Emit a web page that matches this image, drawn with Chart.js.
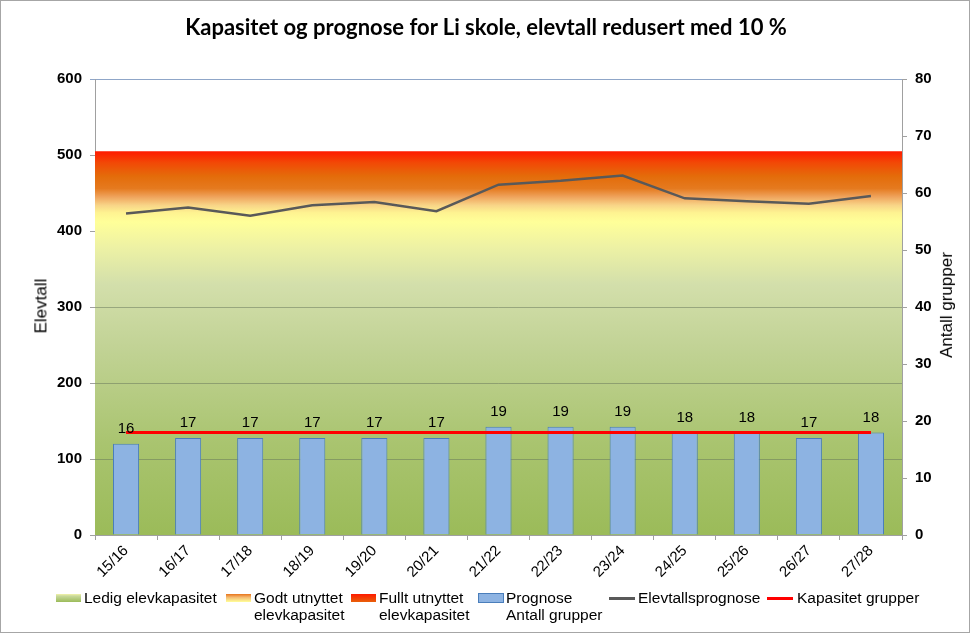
<!DOCTYPE html>
<html>
<head>
<meta charset="utf-8">
<script src="https://cdn.jsdelivr.net/npm/chart.js@4/dist/chart.umd.min.js"></script>
<style>
  html, body { margin: 0; padding: 0; background: #fff; }
  #wrap { position: relative; width: 970px; height: 633px; box-sizing: border-box; border: 1px solid #a6a6a6; overflow: hidden; }
  #c { position: absolute; left: 0; top: 0; }
  .txt { position: absolute; font-family: "Liberation Sans", Arial, sans-serif; color: #000; white-space: nowrap; }
  #title { left: 0; width: 970px; top: 12px; text-align: center; font-family: Lato, "Liberation Sans", sans-serif; font-weight: bold; font-size: 22px; }
  .ytitle { font-size: 17px; transform-origin: center center; }
  .leg { position: absolute; font-family: "Liberation Sans", Arial, sans-serif; font-size: 15.5px; line-height: 17px; white-space: nowrap; }
  .sw { position: absolute; width: 25px; height: 8px; }
  .ln { position: absolute; width: 26px; height: 3px; }
</style>
</head>
<body>
<div id="wrap">
  <canvas id="c" width="970" height="633"></canvas>
  <div id="title" class="txt">Kapasitet og prognose for Li skole, elevtall redusert med 10 %</div>
  <div class="txt ytitle" id="ytl">Elevtall</div>
  <div class="txt ytitle" id="ytr">Antall grupper</div>

  <div class="sw" style="left:55px;top:593px;background:linear-gradient(to bottom,#f2f4a8 0%,#c9d99c 25%,#9bbb59 100%);"></div>
  <div class="leg" style="left:83px;top:588px;">Ledig elevkapasitet</div>
  <div class="sw" style="left:225px;top:593px;background:linear-gradient(to bottom,#e8741a 0%,#f4b870 40%,#ffff99 100%);"></div>
  <div class="leg" style="left:253px;top:588px;">Godt utnyttet<br>elevkapasitet</div>
  <div class="sw" style="left:350px;top:593px;background:linear-gradient(to bottom,#ff1a00 0%,#e8600a 100%);"></div>
  <div class="leg" style="left:378px;top:588px;">Fullt utnyttet<br>elevkapasitet</div>
  <div class="sw" style="left:477px;top:592px;width:24px;height:8px;background:#8db3e2;border:1px solid #4a7ebb;"></div>
  <div class="leg" style="left:505px;top:588px;">Prognose<br>Antall grupper</div>
  <div class="ln" style="left:608px;top:596px;background:#595959;"></div>
  <div class="leg" style="left:637px;top:588px;">Elevtallsprognose</div>
  <div class="ln" style="left:766px;top:596px;background:#ff0000;"></div>
  <div class="leg" style="left:796px;top:588px;">Kapasitet grupper</div>
</div>
<script>
// ---- data ----
const categories = ['15/16','16/17','17/18','18/19','19/20','20/21','21/22','22/23','23/24','24/25','25/26','26/27','27/28'];
const elevtallsprognose = [423, 431, 420, 434, 438, 426, 461, 466, 473, 443, 439, 436, 446];
const antallGrupper = [16, 17, 17, 17, 17, 17, 19, 19, 19, 18, 18, 17, 18];
const kapasitetGrupper = [18, 18, 18, 18, 18, 18, 18, 18, 18, 18, 18, 18, 18];
const ledigElevkapasitet = [415, 415, 415, 415, 415, 415, 415, 415, 415, 415, 415, 415, 415];
const godtUtnyttet = [465, 465, 465, 465, 465, 465, 465, 465, 465, 465, 465, 465, 465];
const fulltUtnyttet = [505, 505, 505, 505, 505, 505, 505, 505, 505, 505, 505, 505, 505];
const leftTicks = [0, 100, 200, 300, 400, 500, 600];
const rightTicks = [0, 10, 20, 30, 40, 50, 60, 70, 80];

// area band points on a hidden linear x axis spanning the full plot width
function bandPoints(arr) {
  const pts = [{x: -0.5, y: arr[0]}];
  arr.forEach((v, i) => pts.push({x: i, y: v}));
  pts.push({x: arr.length - 0.5, y: arr[arr.length - 1]});
  return pts;
}

const stops = [
  [0, '#9bbb59'], [120, '#a9c46f'], [250, '#c2d396'], [330, '#d3dfab'],
  [380, '#eef2a4'], [412, '#ffff99'], [424, '#fef391'], [434, '#f8d487'],
  [445, '#efa35c'], [456, '#e57a1f'], [472, '#e46c0a'], [490, '#f24806'], [505, '#ff1a00']
];
function bandGradient(ctx) {
  const chart = ctx.chart;
  const area = chart.chartArea;
  if (!area) return '#c2d396';
  const y = chart.scales.y;
  const p0 = y.getPixelForValue(0), p1 = y.getPixelForValue(505);
  const g = chart.ctx.createLinearGradient(0, p0, 0, p1);
  stops.forEach(s => g.addColorStop(s[0] / 505, s[1]));
  return g;
}

const gridOverAreas = {
  id: 'gridOverAreas',
  beforeDatasetDraw(chart, args) {
    if (args.index !== 3) return;
    const {ctx, chartArea, scales} = chart;
    ctx.save();
    ctx.strokeStyle = 'rgba(100,115,90,0.5)';
    ctx.lineWidth = 1;
    leftTicks.forEach(v => {
      if (v === 0 || v > 300) return;
      const py = Math.round(scales.y.getPixelForValue(v)) + 0.5;
      ctx.beginPath(); ctx.moveTo(chartArea.left, py); ctx.lineTo(chartArea.right, py); ctx.stroke();
    });
    ctx.restore();
  }
};

const barLabels = {
  id: 'barLabels',
  afterDatasetsDraw(chart) {
    const meta = chart.getDatasetMeta(3);
    const ctx = chart.ctx;
    ctx.save();
    ctx.font = '15px "Liberation Sans", Arial, sans-serif';
    ctx.fillStyle = '#000';
    ctx.textAlign = 'center';
    ctx.textBaseline = 'middle';
    meta.data.forEach((el, i) => {
      ctx.fillText(String(antallGrupper[i]), el.x, el.y - 15);
    });
    ctx.restore();
  }
};

const tickFont = {family: '"Liberation Sans", Arial, sans-serif', size: 15, weight: 'bold'};

new Chart(document.getElementById('c'), {
  type: 'bar',
  data: {
    labels: categories,
    datasets: [
      {type: 'line', label: 'Ledig elevkapasitet', data: bandPoints(ledigElevkapasitet), xAxisID: 'xa', yAxisID: 'y',
       fill: 'origin', backgroundColor: bandGradient, borderWidth: 0, pointRadius: 0, order: 10, tension: 0},
      {type: 'line', label: 'Godt utnyttet elevkapasitet', data: bandPoints(godtUtnyttet), xAxisID: 'xa', yAxisID: 'y',
       fill: 'origin', backgroundColor: bandGradient, borderWidth: 0, pointRadius: 0, order: 11, tension: 0},
      {type: 'line', label: 'Fullt utnyttet elevkapasitet', data: bandPoints(fulltUtnyttet), xAxisID: 'xa', yAxisID: 'y',
       fill: 'origin', backgroundColor: bandGradient, borderWidth: 0, pointRadius: 0, order: 12, tension: 0},
      {type: 'bar', label: 'Prognose Antall grupper', data: antallGrupper, xAxisID: 'x', yAxisID: 'y2', grouped: false,
       backgroundColor: '#8db3e2', borderColor: '#4a7ebb', borderWidth: 1, barPercentage: 0.42, categoryPercentage: 1, order: 5},
      {type: 'line', label: 'Elevtallsprognose', data: elevtallsprognose, xAxisID: 'x', yAxisID: 'y',
       borderColor: '#595959', borderWidth: 2.5, pointRadius: 0, fill: false, tension: 0, order: 2},
      {type: 'line', label: 'Kapasitet grupper', data: kapasitetGrupper, xAxisID: 'x', yAxisID: 'y2',
       borderColor: '#ff0000', borderWidth: 3, pointRadius: 0, fill: false, tension: 0, order: 1}
    ]
  },
  options: {
    responsive: false,
    animation: false,
    layout: {padding: {left: 0, right: 0, top: 78, bottom: 39}},
    plugins: {legend: {display: false}, tooltip: {enabled: false}, title: {display: false}},
    scales: {
      x: {
        type: 'category', position: 'bottom', offset: true,
        grid: {display: true, drawOnChartArea: false, drawTicks: true, tickLength: 5, offset: true, color: '#a0a0a0'},
        border: {display: true, color: '#a0a0a0'},
        ticks: {font: {family: '"Liberation Sans", Arial, sans-serif', size: 15}, color: '#000', minRotation: 45, maxRotation: 45, padding: 2},
        afterFit(s) { s.height = 60; }
      },
      xa: {type: 'linear', display: false, offset: false, min: -0.5, max: 12.5, grid: {offset: false}},
      y: {
        type: 'linear', position: 'left', min: 0, max: 600,
        afterBuildTicks(s) { s.ticks = leftTicks.map(v => ({value: v})); },
        grid: {color: ctx => (ctx.tick && ctx.tick.value === 600 ? '#8fa6c8' : '#a0a0a0'), tickLength: 5, drawTicks: true},
        border: {display: true, color: '#a0a0a0'},
        ticks: {font: tickFont, color: '#000', padding: 8},
        afterFit(s) { s.width = 94; }
      },
      y2: {
        type: 'linear', position: 'right', min: 0, max: 80,
        afterBuildTicks(s) { s.ticks = rightTicks.map(v => ({value: v})); },
        grid: {drawOnChartArea: false, tickLength: 5, drawTicks: true, color: '#a0a0a0'},
        border: {display: true, color: '#a0a0a0'},
        ticks: {font: tickFont, color: '#000', padding: 8},
        afterFit(s) { s.width = 69; }
      }
    }
  },
  plugins: [gridOverAreas, barLabels]
});

// position rotated axis titles
function placeTitle(id, cx, cy, rot) {
  const el = document.getElementById(id);
  const w = el.offsetWidth, h = el.offsetHeight;
  el.style.left = (cx - w / 2) + 'px';
  el.style.top = (cy - h / 2) + 'px';
  el.style.transform = 'rotate(' + rot + 'deg)';
}
placeTitle('ytl', 40, 305, -90);
placeTitle('ytr', 946, 304, -90);
</script>
</body>
</html>
